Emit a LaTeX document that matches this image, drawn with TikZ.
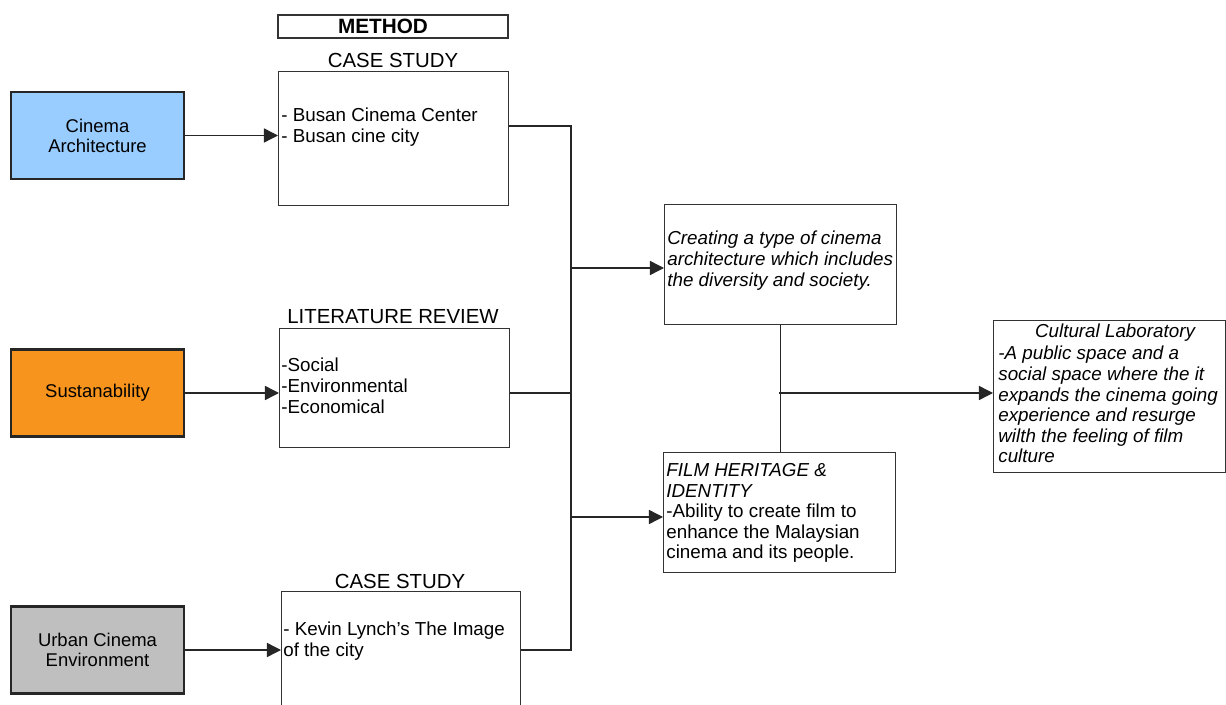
\documentclass[tikz,border=0pt]{standalone}
\usepackage{fontspec}
\setmainfont{Liberation Sans}
\usetikzlibrary{arrows.meta,positioning}

\definecolor{archblue}{HTML}{99CCFF}
\definecolor{susorange}{HTML}{F7941D}
\definecolor{urbangray}{HTML}{BFBFBF}

\tikzset{
  topic/.style={draw=black!85, line width=1.4pt, minimum width=3.46cm, minimum height=1.74cm,
    align=center, inner sep=0pt, font=\fontsize{10.5}{11.4}\selectfont},
  panel/.style={draw=black!80, line width=0.7pt, inner sep=0pt, anchor=north west},
  body/.style={anchor=north west, inner sep=0pt, align=left, font=\fontsize{10.7}{11.7}\selectfont},
  head/.style={inner sep=0pt, font=\fontsize{11.6}{13}\selectfont},
  wire/.style={draw=black!85, line width=0.8pt},
  feed/.style={wire, -{Triangle[length=8pt,width=8pt]}},
}

\begin{document}
\begin{tikzpicture}[x=0.02cm, y=-0.02cm]
  \useasboundingbox (0,0) rectangle (1226,705);

  % left column
  \node[topic, fill=archblue] (arch) at (97.5,135.5) {Cinema\\Architecture};
  \node[topic, fill=susorange] (sus) at (97.5,393) {Sustanability};
  \node[topic, fill=urbangray] (urban) at (97.5,650) {Urban Cinema\\Environment};

  % method column
  \node[panel, minimum width=4.6cm, minimum height=0.46cm, anchor=center] (method) at (393,26.5) {};
  \node[font=\fontsize{11.8}{13}\selectfont\bfseries, inner sep=0pt] (method txt) at (383,26.5) {METHOD};
  \node[head] (case1 head) at (393,60) {CASE STUDY};
  \node[panel, minimum width=4.6cm, minimum height=2.68cm] (case1) at (278,71) {};
  \node[body] (case1 txt) at (281,108) {- Busan Cinema Center\\- Busan cine city};

  \node[head] (lit head) at (393,317) {LITERATURE REVIEW};
  \node[panel, minimum width=4.6cm, minimum height=2.38cm] (lit) at (279,328) {};
  \node[body] (lit txt) at (281,358) {-Social\\-Environmental\\-Economical};

  \node[head] (case2 head) at (400,581) {CASE STUDY};
  \node[panel, minimum width=4.78cm, minimum height=2.7cm] (case2) at (281,591) {};
  \node[body] (case2 txt) at (283,622) {- Kevin Lynch’s The Image\\of the city};

  % outcomes
  \node[panel, minimum width=4.64cm, minimum height=2.4cm] (create) at (664,204) {};
  \node[body, font=\fontsize{10.7}{11.7}\selectfont\itshape] (create txt) at (667,231)
    {Creating a type of cinema\\architecture which includes\\the diversity and society.};

  \node[panel, minimum width=4.64cm, minimum height=2.4cm] (film) at (663,452) {};
  \node[body] (film txt) at (666,463)
    {\textit{FILM HERITAGE \&}\\\textit{IDENTITY}\\-Ability to create film to\\enhance the Malaysian\\cinema and its people.};

  \node[panel, minimum width=4.64cm, minimum height=3.04cm] (cult) at (993,320) {};
  \node[head, font=\fontsize{10.7}{11.7}\selectfont\itshape] (cult head) at (1115,333) {Cultural Laboratory};
  \node[body, font=\fontsize{10.7}{11.7}\selectfont\itshape] (cult txt) at (998,346)
    {-A public space and a\\social space where the it\\expands the cinema going\\experience and resurge\\wilth the feeling of film\\culture};

  % connectors
  \draw[feed] (arch.east) -- (arch.east -| case1.west);
  \draw[feed] (sus.east) -- (sus.east -| lit.west);
  \draw[feed] (urban.east) -- (urban.east -| case2.west);

  \coordinate (trunk top) at (571,126);
  \coordinate (trunk bot) at (571,650);
  \draw[wire] (case1.east |- trunk top) -- (trunk top) -- (trunk bot) -- (case2.east |- trunk bot);
  \draw[wire] (lit.east |- sus.east) -- (trunk top |- sus.east);

  \coordinate (tap1) at (571,268);
  \coordinate (tap2) at (571,517);
  \draw[feed] (tap1) -- (tap1 -| create.west);
  \draw[feed] (tap2) -- (tap2 -| film.west);

  \draw[wire] (create.south) -- (create.south |- film.north);
  \coordinate (junction) at (779,393);
  \draw[feed] (junction) -- (junction -| cult.west);
\end{tikzpicture}
\end{document}
